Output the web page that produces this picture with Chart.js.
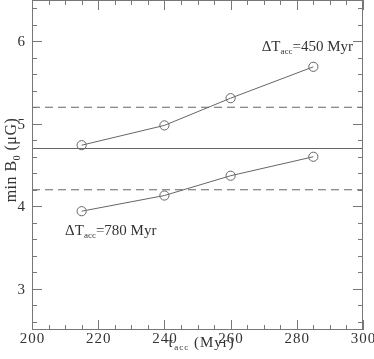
<!DOCTYPE html>
<html>
<head>
<meta charset="utf-8">
<script src="https://cdn.jsdelivr.net/npm/chart.js@4"></script>
<style>
  html, body { margin: 0; padding: 0; background: #fff; }
  #wrap { width: 374px; height: 359px; }
</style>
</head>
<body>
<div id="wrap"><canvas id="c"></canvas></div>
<script>
// accretion timescale (Myr)
const tauAcc = [215, 240, 260, 285];
// min B0 for the two ΔT_acc cases
const minB450 = [4.74, 4.98, 5.31, 5.69];
const minB780 = [3.94, 4.13, 4.37, 4.60];
// horizontal reference levels
const refLevels = [5.2, 4.7, 4.2];
const refDashed = [true, false, true];
// labelled ticks
const xTickLabels = [200, 220, 240, 260, 280, 300];
const yTickLabels = [3, 4, 5, 6];

const lineCol = '#666';
const textCol = '#333';
const serif = '"Liberation Serif", "DejaVu Serif", serif';

const pts = ys => tauAcc.map((t, i) => ({ x: t, y: ys[i] }));

const datasets = [
  { data: pts(minB450) },
  { data: pts(minB780) }
].map(d => Object.assign(d, {
  borderColor: lineCol, borderWidth: 1,
  pointRadius: 4.6, pointBorderWidth: 1,
  pointBackgroundColor: 'rgba(0,0,0,0)', pointBorderColor: lineCol
}));

refLevels.forEach((v, i) => {
  datasets.push({
    data: [{ x: 200, y: v }, { x: 300, y: v }],
    borderColor: lineCol, borderWidth: 1,
    borderDash: refDashed[i] ? [8, 5] : [],
    pointRadius: 0
  });
});

// text with a subscript part
function drawParts(ctx, parts, x, y, size) {
  let cx = x;
  parts.forEach(([s, sub]) => {
    ctx.font = (sub ? size * 0.6 : size) + 'px ' + serif;
    ctx.fillText(s, cx, sub ? y + size * 0.22 : y);
    cx += ctx.measureText(s).width;
  });
  return cx - x;
}
function partsWidth(ctx, parts, size) {
  let w = 0;
  parts.forEach(([s, sub]) => {
    ctx.font = (sub ? size * 0.6 : size) + 'px ' + serif;
    w += ctx.measureText(s).width;
  });
  return w;
}

const framePlugin = {
  id: 'frame',
  afterDraw(chart) {
    const { ctx, chartArea: a, scales: { x, y } } = chart;
    ctx.save();
    ctx.strokeStyle = '#777';
    ctx.lineWidth = 1;
    ctx.strokeRect(a.left + 0.5, a.top + 0.5, a.right - a.left - 1, a.bottom - a.top - 1);
    ctx.beginPath();
    for (let v = 200; v <= 300; v += 5) {
      const px = Math.round(x.getPixelForValue(v)) + 0.5;
      const len = v % 20 === 0 ? 10 : 5;
      ctx.moveTo(px, a.bottom); ctx.lineTo(px, a.bottom - len);
      ctx.moveTo(px, a.top); ctx.lineTo(px, a.top + len);
    }
    for (let k = 26; k <= 64; k += 2) {
      const py = Math.round(y.getPixelForValue(k / 10)) + 0.5;
      const len = k % 10 === 0 ? 10 : 5;
      ctx.moveTo(a.left, py); ctx.lineTo(a.left + len, py);
      ctx.moveTo(a.right, py); ctx.lineTo(a.right - len, py);
    }
    ctx.stroke();

    ctx.fillStyle = textCol;
    // tick labels
    ctx.font = '15px ' + serif;
    ctx.letterSpacing = '1px';
    ctx.textAlign = 'center';
    ctx.textBaseline = 'top';
    xTickLabels.forEach(v => ctx.fillText(String(v), x.getPixelForValue(v) + 0.5, a.bottom + 2));
    ctx.textAlign = 'right';
    ctx.textBaseline = 'middle';
    yTickLabels.forEach(v => ctx.fillText(String(v), 26, y.getPixelForValue(v) + 1));

    ctx.textBaseline = 'alphabetic';
    ctx.textAlign = 'left';
    ctx.letterSpacing = '0px';
    // annotations
    drawParts(ctx, [['ΔT', false], ['acc', true], ['=450 Myr', false]],
      x.getPixelForValue(269.4), y.getPixelForValue(5.88), 15);
    drawParts(ctx, [['ΔT', false], ['acc', true], ['=780 Myr', false]],
      x.getPixelForValue(210), y.getPixelForValue(3.65), 15);

    // x title
    ctx.letterSpacing = '1px';
    const xt = [['τ', false], ['acc', true], [' (Myr)', false]];
    const xw = partsWidth(ctx, xt, 15);
    drawParts(ctx, xt, 201 - xw / 2, 347, 15);

    // y title
    ctx.letterSpacing = '0.5px';
    const yt = [['min B', false], ['0', true], [' (μG)', false]];
    const yw = partsWidth(ctx, yt, 16);
    ctx.translate(16, 160);
    ctx.rotate(-Math.PI / 2);
    drawParts(ctx, yt, -yw / 2, 0, 16);
    ctx.restore();
  }
};

new Chart(document.getElementById('c'), {
  type: 'line',
  data: { datasets },
  plugins: [framePlugin],
  options: {
    responsive: true,
    maintainAspectRatio: false,
    animation: false,
    layout: { autoPadding: false, padding: { top: 0, right: 11, left: 0, bottom: 0 } },
    plugins: { legend: { display: false }, tooltip: { enabled: false } },
    scales: {
      x: {
        type: 'linear', min: 200, max: 300,
        grid: { display: false, drawTicks: false },
        border: { display: false },
        ticks: { display: false },
        afterFit(s) { s.height = 29; }
      },
      y: {
        min: 2.5, max: 6.5,
        grid: { display: false, drawTicks: false },
        border: { display: false },
        ticks: { display: false },
        afterFit(s) { s.width = 32; }
      }
    }
  }
});
</script>
</body>
</html>
